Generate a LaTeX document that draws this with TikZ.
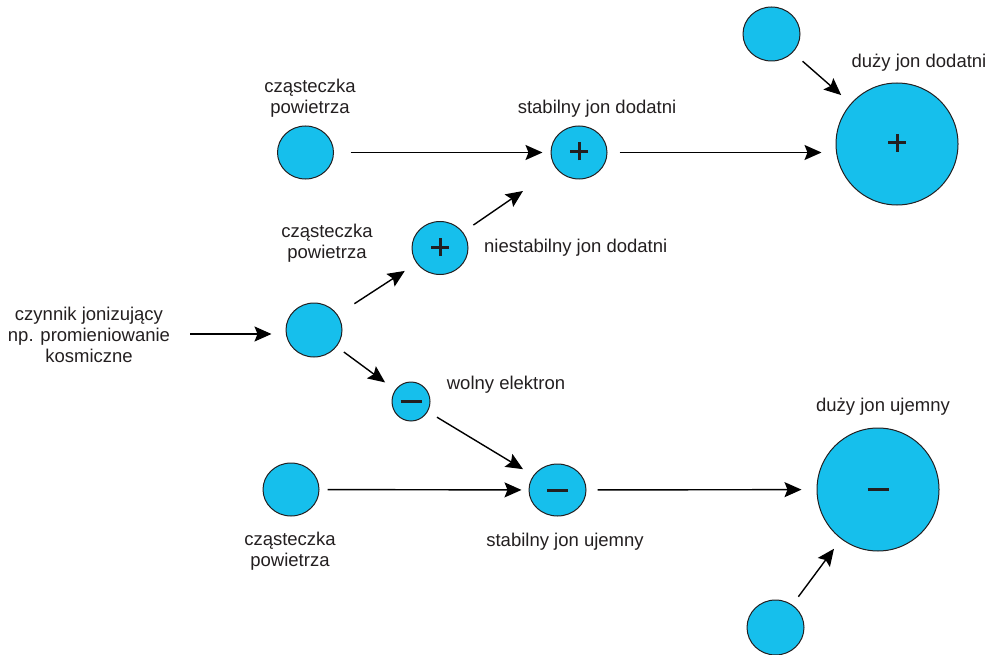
\documentclass[tikz,border=0pt]{standalone}
\usepackage{fontspec}
\setmainfont{Liberation Sans}
\usetikzlibrary{shapes.geometric,arrows.meta}
\definecolor{molfill}{HTML}{16BFEC}
\definecolor{ink}{HTML}{231F20}
\begin{document}
\begin{tikzpicture}[x=1pt,y=-1pt,
  mol/.style={ellipse,draw=ink,line width=1pt,fill=molfill,inner sep=0pt,minimum width=56pt,minimum height=53pt},
  bigmol/.style={mol,minimum width=122pt,minimum height=122pt},
  smallmol/.style={mol,minimum width=38pt,minimum height=39pt},
  lbl/.style={text=ink,align=center,inner sep=0pt,font=\fontsize{18.5}{21}\selectfont},
  arr/.style={draw=black,line width=1.4pt,-{Stealth[length=17pt,width=15pt,inset=3pt]}},
  sign/.style={draw=ink,line width=3pt}]
\useasboundingbox (0,0) rectangle (995,655);

% molecules
\node[mol,minimum width=57pt,minimum height=54pt] (ts) at (771.5,34) {};
\node[bigmol] (bp) at (897,144) {};
\node[mol] (sp) at (579,152.5) {};
\node[mol] (tl) at (305.5,152.5) {};
\node[mol] (up) at (440,248) {};
\node[mol,minimum height=54pt] (mid) at (314,330) {};
\node[smallmol] (el) at (411,401.5) {};
\node[mol] (bl) at (291,489.5) {};
\node[mol,minimum width=57pt,minimum height=52pt] (sn) at (557.5,490) {};
\node[bigmol,minimum height=123pt] (bn) at (878,489.5) {};
\node[mol,minimum width=57pt,minimum height=55pt] (bs) at (775.5,627.5) {};

% signs
\foreach \n in {bp,sp,up}{
  \draw[sign] ([xshift=-9pt,yshift=1pt]\n.center) -- ([xshift=9pt,yshift=1pt]\n.center);
  \draw[sign] ([yshift=-8pt]\n.center) -- ([yshift=10pt]\n.center);
}
\foreach \n in {el,sn,bn}{
  \draw[sign] ([xshift=-10.5pt]\n.center) -- ([xshift=10.5pt]\n.center);
}

% labels
\node[lbl] (t1) at (310,98.5) {cząsteczka\\powietrza};
\node[lbl] (t2) at (597,109) {stabilny jon dodatni};
\node[lbl] (t3) at (919,63) {duży jon dodatni};
\node[lbl] (t4) at (327,243) {cząsteczka\\powietrza};
\node[lbl,anchor=west] (t5) at (484,248) {niestabilny jon dodatni};
\node[lbl] (src) at (89,335) {czynnik jonizujący\\np. promieniowanie\\kosmiczne};
\node[lbl] (t6) at (506,385) {wolny elektron};
\node[lbl] (t7) at (883,407) {duży jon ujemny};
\node[lbl] (t8) at (290,551.5) {cząsteczka\\powietrza};
\node[lbl] (t9) at (565,542) {stabilny jon ujemny};

% arrows
\coordinate (srcend) at (src.east |- 0,334);
\draw[arr,shorten <=20pt,shorten >=14pt] (srcend) -- (mid.west |- srcend);
\draw[arr,shorten <=20pt,shorten >=14pt] (mid) -- (up);
\draw[arr,shorten <=12.5pt,shorten >=40pt] (up) -- (sp);
\draw[arr,shorten <=16.5pt,shorten >=8pt] (tl) -- (sp);
\draw[arr,shorten <=12pt,shorten >=14pt] (sp) -- (bp.west |- sp);
\draw[arr,shorten <=13pt,shorten >=12.7pt] (ts) -- (bp);
\draw[arr,shorten <=9pt,shorten >=12.5pt] (mid) -- (el);
\draw[arr,shorten <=10.7pt,shorten >=12pt] (el) -- (sn);
\draw[arr,shorten <=8pt,shorten >=7pt] (bl) -- (sn);
\draw[arr,shorten <=11pt,shorten >=15pt] (sn) -- (bn);
\draw[arr,shorten <=10pt,shorten >=12pt] (bs) -- (bn);
\end{tikzpicture}
\end{document}
